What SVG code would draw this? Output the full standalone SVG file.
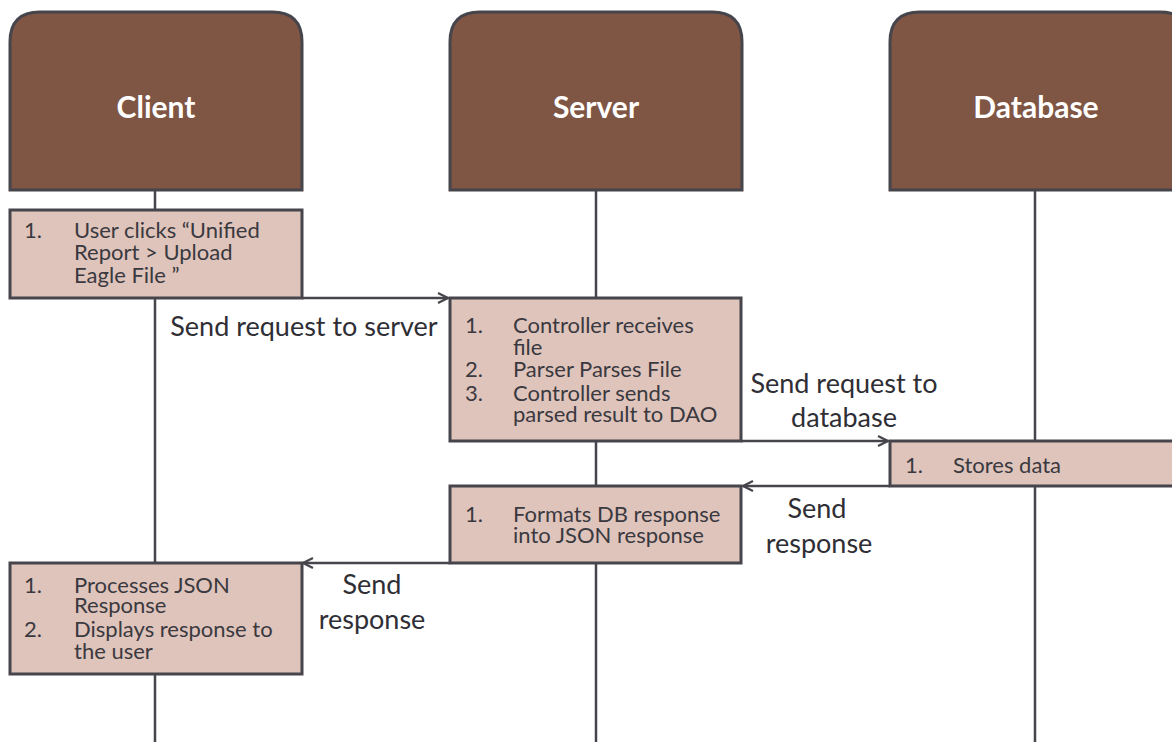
<svg xmlns="http://www.w3.org/2000/svg" width="1172" height="742" viewBox="0 0 1172 742">
<style>
.hdr{fill:#7f5544;stroke:#46454c;stroke-width:3}
.box{fill:#dfc4bb;stroke:#46454c;stroke-width:3}
.life{stroke:#46454c;stroke-width:2.5;fill:none}
.conn{stroke:#46454c;stroke-width:2.5;fill:none}
.ht{font-family:Lato,"Open Sans",sans-serif;font-size:30px;font-weight:700;fill:#ffffff;text-anchor:middle}
.bt{font-family:Lato,"Open Sans",sans-serif;font-size:22px;fill:#3a3940}
.lt{font-family:Lato,"Open Sans",sans-serif;font-size:27px;fill:#2f2e35}
</style>
<defs>
<marker id="arr" viewBox="0 0 12 12" refX="11" refY="6" markerWidth="12" markerHeight="12" markerUnits="userSpaceOnUse" orient="auto">
<path d="M1,1 L11,6 L1,11" fill="none" stroke="#46454c" stroke-width="2.2"/>
</marker>
</defs>
<g id="lifelines">
<line class="life" x1="155" y1="190" x2="155" y2="742"/>
<line class="life" x1="596" y1="190" x2="596" y2="742"/>
<line class="life" x1="1035" y1="190" x2="1035" y2="742"/>
</g>
<g id="client">
<path class="hdr" d="M10,190 V42 Q10,12 40,12 H272 Q302,12 302,42 V190 Z"/>
<text class="ht" x="156" y="118">Client</text>
</g>
<g id="server">
<path class="hdr" d="M450,190 V42 Q450,12 480,12 H712 Q742,12 742,42 V190 Z"/>
<text class="ht" x="596" y="118">Server</text>
</g>
<g id="database">
<path class="hdr" d="M890,190 V42 Q890,12 920,12 H1160 Q1190,12 1190,42 V190 Z"/>
<text class="ht" x="1036" y="118">Database</text>
</g>
<g id="client-step1">
<rect class="box" x="10" y="210" width="292" height="88"/>
<text class="bt"><tspan x="24" y="238">1.</tspan><tspan x="74" y="238">User clicks “Unified</tspan><tspan x="74" y="260">Report &gt; Upload</tspan><tspan x="74" y="283">Eagle File ”</tspan></text>
</g>
<g id="server-step1">
<rect class="box" x="450" y="298" width="291" height="143"/>
<text class="bt"><tspan x="465" y="333">1.</tspan><tspan x="513" y="333">Controller receives</tspan><tspan x="513" y="355">file</tspan><tspan x="465" y="377">2.</tspan><tspan x="513" y="377">Parser Parses File</tspan><tspan x="465" y="401">3.</tspan><tspan x="513" y="401">Controller sends</tspan><tspan x="513" y="422">parsed result to DAO</tspan></text>
</g>
<g id="db-step1">
<rect class="box" x="890" y="441" width="300" height="45"/>
<text class="bt"><tspan x="905" y="473">1.</tspan><tspan x="953" y="473">Stores data</tspan></text>
</g>
<g id="server-step2">
<rect class="box" x="450" y="486" width="291" height="77"/>
<text class="bt"><tspan x="465" y="522">1.</tspan><tspan x="513" y="522">Formats DB response</tspan><tspan x="513" y="543">into JSON response</tspan></text>
</g>
<g id="client-step2">
<rect class="box" x="10" y="563" width="292" height="111"/>
<text class="bt"><tspan x="24" y="593">1.</tspan><tspan x="74" y="593">Processes JSON</tspan><tspan x="74" y="613">Response</tspan><tspan x="24" y="637">2.</tspan><tspan x="74" y="637">Displays response to</tspan><tspan x="74" y="659">the user</tspan></text>
</g>
<g id="connectors">
<line class="conn" x1="302" y1="298" x2="448" y2="298" marker-end="url(#arr)"/>
<line class="conn" x1="741" y1="441" x2="888" y2="441" marker-end="url(#arr)"/>
<line class="conn" x1="890" y1="486" x2="743" y2="486" marker-end="url(#arr)"/>
<line class="conn" x1="450" y1="563" x2="303" y2="563" marker-end="url(#arr)"/>
<text class="lt" x="304" y="336" text-anchor="middle">Send request to server</text>
<text class="lt" x="844" y="393" text-anchor="middle">Send request to</text>
<text class="lt" x="844" y="427" text-anchor="middle">database</text>
<text class="lt" x="817" y="518" text-anchor="middle">Send</text>
<text class="lt" x="819" y="553" text-anchor="middle">response</text>
<text class="lt" x="372" y="594" text-anchor="middle">Send</text>
<text class="lt" x="372" y="629" text-anchor="middle">response</text>
</g>
</svg>
